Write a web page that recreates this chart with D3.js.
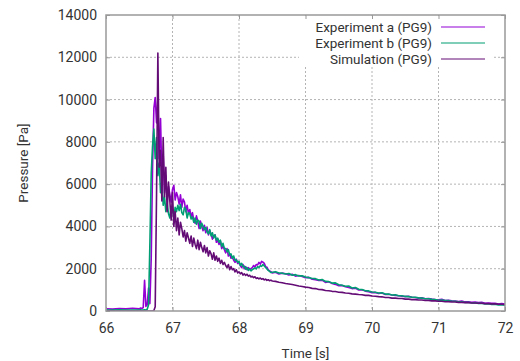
<!DOCTYPE html>
<html>
<head>
<meta charset="utf-8">
<script src="https://cdn.jsdelivr.net/npm/d3@7"></script>
<style>
  body { margin: 0; background: #fff; }
  svg text { font-family: Roboto, "Open Sans", sans-serif; fill: #333; }
</style>
</head>
<body>
<div id="chart"></div>
<script>
// time base [s], shared by all three traces
const time = [
  66.00, 66.10, 66.20, 66.30, 66.40,
  66.50, 66.52, 66.54, 66.56, 66.58, 66.60, 66.62, 66.64, 66.66, 66.68,
  66.70, 66.72, 66.74, 66.76, 66.78, 66.80, 66.82, 66.84, 66.86, 66.88,
  66.90, 66.92, 66.94, 66.96, 66.98, 67.00, 67.02, 67.04, 67.06, 67.08,
  67.10, 67.12, 67.14, 67.16, 67.18, 67.20, 67.22, 67.24, 67.26, 67.28,
  67.30, 67.32, 67.34, 67.36, 67.38, 67.40, 67.42, 67.44, 67.46, 67.48,
  67.50, 67.52, 67.54, 67.56, 67.58, 67.60, 67.62, 67.64, 67.66, 67.68,
  67.70, 67.72, 67.74, 67.76, 67.78, 67.80, 67.82, 67.84, 67.86, 67.88,
  67.90, 67.92, 67.94, 67.96, 67.98, 68.00, 68.02, 68.04, 68.06, 68.08,
  68.10, 68.12, 68.14, 68.16, 68.18, 68.20, 68.22, 68.24, 68.26, 68.28,
  68.30, 68.32, 68.34, 68.36, 68.38, 68.40, 68.42, 68.44, 68.46, 68.48,
  68.50,
  68.55, 68.60, 68.65, 68.70, 68.75, 68.80, 68.85, 68.90, 68.95, 69.00,
  69.05, 69.10, 69.15, 69.20, 69.25, 69.30, 69.35, 69.40, 69.45, 69.50,
  69.55, 69.60, 69.65, 69.70, 69.75, 69.80, 69.85, 69.90, 69.95, 70.00,
  70.05, 70.10, 70.15, 70.20, 70.25, 70.30, 70.35, 70.40, 70.45, 70.50,
  70.55, 70.60, 70.65, 70.70, 70.75, 70.80, 70.85, 70.90, 70.95, 71.00,
  71.05, 71.10, 71.15, 71.20, 71.25, 71.30, 71.35, 71.40, 71.45, 71.50,
  71.55, 71.60, 71.65, 71.70, 71.75, 71.80, 71.85, 71.90, 71.95, 72.00
];

// pressure [Pa]
const expA = [
  110, 90, 120, 100, 130,
  100, 140, 120, 160, 1450, 220, 300, 1080, 350, 2500,
  6800, 9600, 10100, 8900, 10000, 7200, 9100, 6300, 7400, 5600,
  6400, 5300, 5900, 5500, 5150, 5750, 5950, 5250, 5600, 5400,
  5050, 5500, 4900, 5300, 5150, 4700, 5000, 4600, 4800, 4450,
  4650, 4300, 4150, 4500, 4250, 3900, 4250, 4000, 3800, 4050,
  3700, 3950, 3600, 3800, 3650, 3400, 3550, 3600, 3250, 3350,
  3150, 3300, 2950, 3100, 2900, 2750, 2950, 2600, 2700, 2500,
  2550, 2400, 2300, 2450, 2250, 2300, 2150, 2050, 2200, 2000,
  2100, 1950, 2050, 1980, 2000, 2050, 2150, 2080, 2200, 2180,
  2300, 2220, 2350, 2310, 2250, 2100, 2070, 1950, 1900, 1860,
  1800,
  1830, 1750, 1790, 1760, 1700, 1740, 1650, 1680, 1630, 1570,
  1590, 1500, 1480, 1440, 1460, 1350, 1380, 1300, 1260, 1200,
  1210, 1150, 1110, 1060, 1080, 990, 1000, 940, 910, 870,
  880, 830, 850, 780, 790, 760, 740, 720, 700, 680,
  700, 650, 640, 610, 630, 580, 590, 560, 540, 530,
  550, 500, 510, 480, 470, 450, 470, 430, 440, 410,
  420, 400, 410, 370, 380, 360, 370, 330, 350, 330
];

const expB = [
  50, 40, 60, 50, 40,
  50, 60, 40, 50, 60, 50, 80, 300, 3200, 6500,
  7800, 8600, 7200, 8200, 6400, 7000, 5600, 6100, 5000, 5400,
  4700, 5100, 4600, 4400, 4900, 4800, 4450, 4900, 4700, 5000,
  4750, 5050, 4650, 4550, 4900, 4800, 4400, 4650, 4600, 4350,
  4450, 4200, 4400, 4100, 4300, 4250, 3900, 4150, 4000, 3850,
  3950, 3750, 3650, 3850, 3550, 3700, 3450, 3600, 3350, 3450,
  3250, 3350, 3050, 3200, 2950, 2950, 2800, 2900, 2650, 2700,
  2500, 2600, 2400, 2420, 2300, 2350, 2150, 2250, 2100, 2120,
  1980, 2050, 1920, 1990, 1900, 1960, 2000, 2040, 1990, 2100,
  2060, 2140, 2110, 2200, 2130, 2060, 1990, 1920, 1870, 1820,
  1830,
  1860, 1800, 1790, 1750, 1770, 1690, 1720, 1660, 1670, 1610,
  1580, 1540, 1530, 1470, 1490, 1400, 1390, 1320, 1330, 1240,
  1220, 1170, 1180, 1090, 1110, 1030, 1020, 960, 950, 900,
  890, 850, 860, 800, 800, 760, 770, 720, 720, 690,
  680, 650, 650, 620, 610, 580, 580, 550, 540, 510,
  520, 490, 490, 460, 460, 430, 440, 400, 410, 380,
  390, 360, 370, 330, 340, 310, 320, 290, 300, 270
];

const sim = [
  0, 0, 0, 0, 0,
  0, 0, 0, 0, 0, 0, 0, 0, 0, 0,
  0, 20, 200, 5500, 12200, 6800, 7600, 5200, 8200, 5400,
  6800, 4700, 6100, 5200, 4300, 5600, 4000, 4700, 3800, 4400,
  3600, 4200, 3900, 3500, 3800, 3300, 3700, 3450, 3200, 3550,
  3050, 3450, 3150, 2950, 3350, 2900, 3250, 3000, 2800, 3100,
  2750, 3000, 2600, 2850, 2700, 2450, 2750, 2400, 2600, 2350,
  2500, 2250, 2400, 2200, 2300, 2150, 2050, 2200, 1950, 2100,
  1950, 2000, 1850, 1950, 1800, 1850, 1760, 1820, 1700, 1760,
  1680, 1740, 1650, 1690, 1610, 1640, 1580, 1620, 1540, 1570,
  1520, 1560, 1500, 1530, 1470, 1510, 1450, 1480, 1430, 1460,
  1420,
  1400, 1360, 1340, 1300, 1280, 1250, 1220, 1180, 1160, 1130,
  1110, 1070, 1060, 1020, 1010, 970, 960, 930, 920, 890,
  880, 850, 840, 810, 800, 780, 770, 740, 740, 710,
  700, 680, 670, 640, 640, 610, 610, 590, 590, 560,
  560, 540, 540, 520, 520, 500, 500, 480, 480, 460,
  460, 440, 445, 425, 425, 410, 410, 395, 395, 380,
  380, 365, 365, 350, 350, 335, 335, 325, 320, 310
];

const xTicks = [66, 67, 68, 69, 70, 71, 72];
const yTicks = [0, 2000, 4000, 6000, 8000, 10000, 12000, 14000];
const seriesNames = ['Experiment a (PG9)', 'Experiment b (PG9)', 'Simulation (PG9)'];
const seriesColors = ['#9400d3', '#009e73', '#640c76'];
const seriesValues = [expA, expB, sim];

const width = 520, height = 361;
const margin = {top: 15, right: 15, bottom: 50, left: 106};
const innerW = width - margin.left - margin.right;
const innerH = height - margin.top - margin.bottom;

const svg = d3.select('#chart')
  .append('svg')
    .attr('width', width)
    .attr('height', height);

const g = svg.append('g')
  .attr('transform', `translate(${margin.left}, ${margin.top})`);

const xScale = d3.scaleLinear().domain([66, 72]).range([0, innerW]);
const yScale = d3.scaleLinear().domain([0, 14000]).range([innerH, 0]);

// dashed grid
g.append('g')
  .selectAll('line')
  .data(xTicks.slice(1, -1))
  .join('line')
    .attr('x1', (d) => xScale(d)).attr('x2', (d) => xScale(d))
    .attr('y1', 0).attr('y2', innerH)
    .attr('stroke', '#b4b4b4')
    .attr('stroke-dasharray', '2,2');

g.append('g')
  .selectAll('line')
  .data(yTicks.slice(1, -1))
  .join('line')
    .attr('x1', 0).attr('x2', innerW)
    .attr('y1', (d) => yScale(d)).attr('y2', (d) => yScale(d))
    .attr('stroke', '#b4b4b4')
    .attr('stroke-dasharray', '2,2');

// opaque key box
g.append('rect')
  .attr('x', 193).attr('y', 1)
  .attr('width', 193).attr('height', 51)
  .attr('fill', '#fff');

// traces
g.append('clipPath').attr('id', 'plotclip')
  .append('rect').attr('width', innerW).attr('height', innerH);

const line = d3.line()
  .x((d, i) => xScale(time[i]))
  .y((d) => yScale(d));

g.append('g')
  .attr('clip-path', 'url(#plotclip)')
  .selectAll('path')
  .data(seriesValues)
  .join('path')
    .attr('fill', 'none')
    .attr('stroke', (d, i) => seriesColors[i])
    .attr('stroke-width', 1.6)
    .attr('stroke-linejoin', 'round')
    .attr('d', line);

// axes
const xAxis = g.append('g')
  .attr('transform', `translate(0, ${innerH})`)
  .call(d3.axisBottom(xScale).tickValues(xTicks).tickFormat(d3.format('d'))
    .tickSize(-4).tickPadding(12));

const yAxis = g.append('g')
  .call(d3.axisLeft(yScale).tickValues(yTicks).tickFormat(d3.format('d'))
    .tickSize(-4).tickPadding(9));

g.append('g')
  .call(d3.axisTop(xScale).tickValues(xTicks).tickFormat('').tickSize(-4));
g.append('g')
  .attr('transform', `translate(${innerW}, 0)`)
  .call(d3.axisRight(yScale).tickValues(yTicks).tickFormat('').tickSize(-4));

g.selectAll('.domain').remove();
g.selectAll('.tick line').attr('stroke', '#999');
[xAxis, yAxis].forEach((a) => a.selectAll('text')
  .attr('font-size', 14).attr('fill', '#333'));

g.append('rect')
  .attr('width', innerW).attr('height', innerH)
  .attr('fill', 'none')
  .attr('stroke', '#999')
  .attr('stroke-width', 1.5);

// key
const key = g.append('g').attr('transform', 'translate(326, 12)');
seriesNames.forEach((name, i) => {
  const row = key.append('g').attr('transform', `translate(0, ${i * 16})`);
  row.append('text')
    .attr('x', 0).attr('dy', '0.35em')
    .attr('text-anchor', 'end')
    .attr('font-size', 13.5)
    .text(name);
  row.append('line')
    .attr('x1', 9).attr('x2', 53)
    .attr('stroke', seriesColors[i])
    .attr('stroke-width', 1.2);
});

// axis labels
svg.append('text')
  .attr('x', margin.left + innerW / 2).attr('y', 353)
  .attr('dy', '0.35em')
  .attr('text-anchor', 'middle')
  .attr('font-size', 13.5)
  .text('Time [s]');

svg.append('text')
  .attr('transform', `translate(23, ${margin.top + innerH / 2}) rotate(-90)`)
  .attr('dy', '0.35em')
  .attr('text-anchor', 'middle')
  .attr('font-size', 13.5)
  .text('Pressure [Pa]');
</script>
</body>
</html>
